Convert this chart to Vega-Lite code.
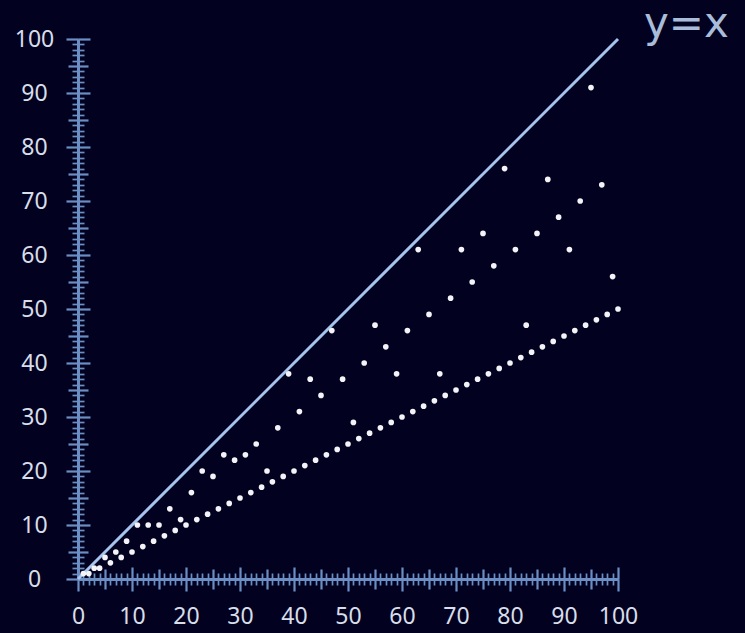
{
  "$schema": "https://vega.github.io/schema/vega-lite/v6.json",
  "width": 540,
  "height": 540,
  "autosize": {"type": "none"},
  "padding": {"left": 78, "top": 39, "right": 127, "bottom": 54},
  "background": "#020220",
  "config": {"view": {"stroke": null}, "font": "Noto Sans"},
  "layer": [
    {
      "data": {"values": [{"n": 0, "v": 0}, {"n": 100, "v": 100}]},
      "mark": {"type": "line", "color": "#a6c4ee", "strokeWidth": 3, "clip": false},
      "encoding": {
        "x": {
          "field": "n", "type": "quantitative",
          "scale": {"domain": [0, 100], "nice": false, "zero": false},
          "axis": {
            "orient": "bottom", "title": null, "grid": false,
            "values": [0,1,2,3,4,5,6,7,8,9,10,11,12,13,14,15,16,17,18,19,20,21,22,23,24,25,26,27,28,29,30,31,32,33,34,35,36,37,38,39,40,41,42,43,44,45,46,47,48,49,50,51,52,53,54,55,56,57,58,59,60,61,62,63,64,65,66,67,68,69,70,71,72,73,74,75,76,77,78,79,80,81,82,83,84,85,86,87,88,89,90,91,92,93,94,95,96,97,98,99,100],
            "domainColor": "#6b8fc4", "domainWidth": 3,
            "tickColor": "#6b8fc4",
            "tickSize": {"condition": [{"test": "datum.value % 10 === 0", "value": 12}, {"test": "datum.value % 5 === 0", "value": 10}], "value": 6},
            "tickWidth": {"condition": {"test": "datum.value % 5 === 0", "value": 2.2}, "value": 1.7},
            "labelExpr": "datum.value % 10 === 0 ? datum.label : ''",
            "labelOverlap": false, "labelFlush": false,
            "labelFontSize": 23, "labelColor": "#d8dee9", "labelPadding": 14, "labelFont": "Noto Sans"
          }
        },
        "y": {
          "field": "v", "type": "quantitative",
          "scale": {"domain": [0, 100], "nice": false, "zero": false},
          "axis": {
            "orient": "left", "title": null, "grid": false,
            "values": [0,1,2,3,4,5,6,7,8,9,10,11,12,13,14,15,16,17,18,19,20,21,22,23,24,25,26,27,28,29,30,31,32,33,34,35,36,37,38,39,40,41,42,43,44,45,46,47,48,49,50,51,52,53,54,55,56,57,58,59,60,61,62,63,64,65,66,67,68,69,70,71,72,73,74,75,76,77,78,79,80,81,82,83,84,85,86,87,88,89,90,91,92,93,94,95,96,97,98,99,100],
            "domainColor": "#6b8fc4", "domainWidth": 3,
            "tickColor": "#6b8fc4",
            "tickSize": {"condition": [{"test": "datum.value % 10 === 0", "value": 12}, {"test": "datum.value % 5 === 0", "value": 10}], "value": 6},
            "tickWidth": {"condition": {"test": "datum.value % 5 === 0", "value": 2.2}, "value": 1.7},
            "labelExpr": "datum.value % 10 === 0 ? datum.label : ''",
            "labelOverlap": false, "labelFlush": false, "labelAlign": "center",
            "labelFontSize": 23, "labelColor": "#d8dee9", "labelPadding": 32, "labelFont": "Noto Sans"
          }
        }
      }
    },
    {
      "data": {"values": [
        {"n":1,"v":1},{"n":2,"v":1},{"n":3,"v":2},{"n":4,"v":2},{"n":5,"v":4},{"n":6,"v":3},{"n":7,"v":5},{"n":8,"v":4},{"n":9,"v":7},{"n":10,"v":5},
        {"n":11,"v":10},{"n":12,"v":6},{"n":13,"v":10},{"n":14,"v":7},{"n":15,"v":10},{"n":16,"v":8},{"n":17,"v":13},{"n":18,"v":9},{"n":19,"v":11},{"n":20,"v":10},
        {"n":21,"v":16},{"n":22,"v":11},{"n":23,"v":20},{"n":24,"v":12},{"n":25,"v":19},{"n":26,"v":13},{"n":27,"v":23},{"n":28,"v":14},{"n":29,"v":22},{"n":30,"v":15},
        {"n":31,"v":23},{"n":32,"v":16},{"n":33,"v":25},{"n":34,"v":17},{"n":35,"v":20},{"n":36,"v":18},{"n":37,"v":28},{"n":38,"v":19},{"n":39,"v":38},{"n":40,"v":20},
        {"n":41,"v":31},{"n":42,"v":21},{"n":43,"v":37},{"n":44,"v":22},{"n":45,"v":34},{"n":46,"v":23},{"n":47,"v":46},{"n":48,"v":24},{"n":49,"v":37},{"n":50,"v":25},
        {"n":51,"v":29},{"n":52,"v":26},{"n":53,"v":40},{"n":54,"v":27},{"n":55,"v":47},{"n":56,"v":28},{"n":57,"v":43},{"n":58,"v":29},{"n":59,"v":38},{"n":60,"v":30},
        {"n":61,"v":46},{"n":62,"v":31},{"n":63,"v":61},{"n":64,"v":32},{"n":65,"v":49},{"n":66,"v":33},{"n":67,"v":38},{"n":68,"v":34},{"n":69,"v":52},{"n":70,"v":35},
        {"n":71,"v":61},{"n":72,"v":36},{"n":73,"v":55},{"n":74,"v":37},{"n":75,"v":64},{"n":76,"v":38},{"n":77,"v":58},{"n":78,"v":39},{"n":79,"v":76},{"n":80,"v":40},
        {"n":81,"v":61},{"n":82,"v":41},{"n":83,"v":47},{"n":84,"v":42},{"n":85,"v":64},{"n":86,"v":43},{"n":87,"v":74},{"n":88,"v":44},{"n":89,"v":67},{"n":90,"v":45},
        {"n":91,"v":61},{"n":92,"v":46},{"n":93,"v":70},{"n":94,"v":47},{"n":95,"v":91},{"n":96,"v":48},{"n":97,"v":73},{"n":98,"v":49},{"n":99,"v":56},{"n":100,"v":50}
      ]},
      "mark": {"type": "circle", "color": "#f4f4f8", "opacity": 1, "size": 32, "clip": false},
      "encoding": {
        "x": {
          "field": "n", "type": "quantitative",
          "axis": {
            "orient": "bottom", "title": null, "grid": false, "labels": false,
            "values": [0,1,2,3,4,5,6,7,8,9,10,11,12,13,14,15,16,17,18,19,20,21,22,23,24,25,26,27,28,29,30,31,32,33,34,35,36,37,38,39,40,41,42,43,44,45,46,47,48,49,50,51,52,53,54,55,56,57,58,59,60,61,62,63,64,65,66,67,68,69,70,71,72,73,74,75,76,77,78,79,80,81,82,83,84,85,86,87,88,89,90,91,92,93,94,95,96,97,98,99,100],
            "domainColor": "#6b8fc4", "domainWidth": 3,
            "tickColor": "#6b8fc4",
            "tickSize": {"condition": [{"test": "datum.value % 10 === 0", "value": -12}, {"test": "datum.value % 5 === 0", "value": -10}], "value": -6},
            "tickWidth": {"condition": {"test": "datum.value % 5 === 0", "value": 2.2}, "value": 1.7}
          }
        },
        "y": {
          "field": "v", "type": "quantitative",
          "axis": {
            "orient": "left", "title": null, "grid": false, "labels": false,
            "values": [0,1,2,3,4,5,6,7,8,9,10,11,12,13,14,15,16,17,18,19,20,21,22,23,24,25,26,27,28,29,30,31,32,33,34,35,36,37,38,39,40,41,42,43,44,45,46,47,48,49,50,51,52,53,54,55,56,57,58,59,60,61,62,63,64,65,66,67,68,69,70,71,72,73,74,75,76,77,78,79,80,81,82,83,84,85,86,87,88,89,90,91,92,93,94,95,96,97,98,99,100],
            "domainColor": "#6b8fc4", "domainWidth": 3,
            "tickColor": "#6b8fc4",
            "tickSize": {"condition": [{"test": "datum.value % 10 === 0", "value": -12}, {"test": "datum.value % 5 === 0", "value": -10}], "value": -6},
            "tickWidth": {"condition": {"test": "datum.value % 5 === 0", "value": 2.2}, "value": 1.7}
          }
        }
      }
    },
    {
      "data": {"values": [{"label": "y=x", "n": 100, "v": 100}]},
      "mark": {"type": "text", "align": "left", "baseline": "alphabetic", "dx": 26, "dy": -2, "fontSize": 42, "font": "DejaVu Sans", "color": "#a9bcd9", "clip": false},
      "encoding": {
        "x": {"field": "n", "type": "quantitative", "axis": null},
        "y": {"field": "v", "type": "quantitative", "axis": null},
        "text": {"field": "label"}
      }
    }
  ],
  "resolve": {"axis": {"x": "independent", "y": "independent"}}
}
